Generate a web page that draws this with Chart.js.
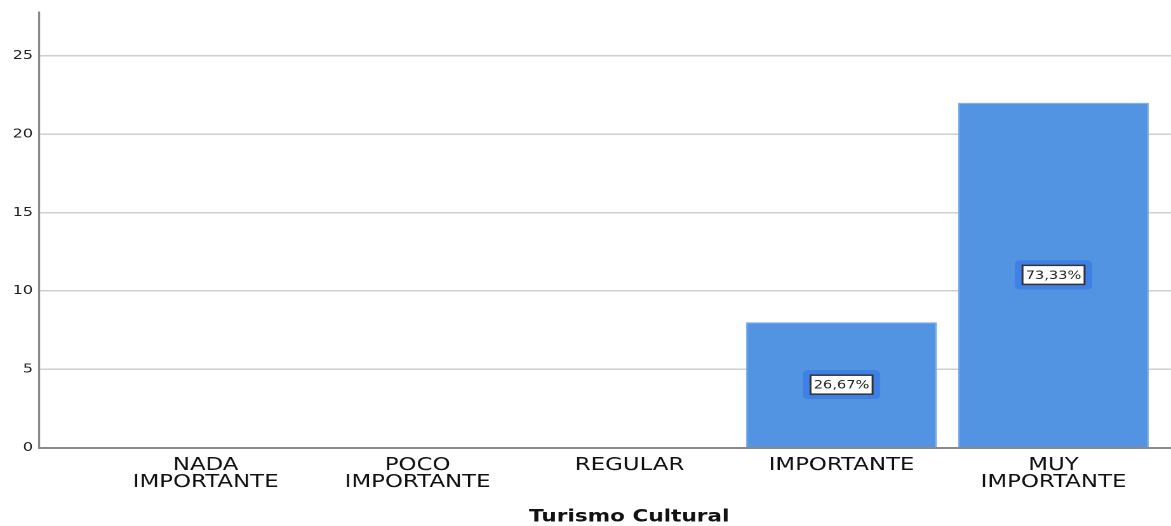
<!DOCTYPE html>
<html><head><meta charset="utf-8">
<script src="https://cdn.jsdelivr.net/npm/chart.js@4"></script>
<style>
html,body{margin:0;padding:0;background:#fff;overflow:hidden}
#wrap{width:922px;height:526px;transform:scaleX(1.27);transform-origin:0 0}
</style>
</head><body><div id="wrap"><canvas id="c"></canvas></div>
<script>
const categories = [["NADA","IMPORTANTE"],["POCO","IMPORTANTE"],["REGULAR"],["IMPORTANTE"],["MUY","IMPORTANTE"]];
const counts = [0, 0, 0, 8, 22];
const percentLabels = ["", "", "", "26,67%", "73,33%"];
const yTicks = [0, 5, 10, 15, 20, 25];
const xTitle = 'Turismo Cultural';

const labelPlugin = {
  id: 'pctLabels',
  afterDatasetsDraw(chart) {
    const ctx = chart.ctx;
    const meta = chart.getDatasetMeta(0);
    ctx.save();
    ctx.font = '11.5px "DejaVu Sans"';
    ctx.textAlign = 'center';
    ctx.textBaseline = 'middle';
    meta.data.forEach((bar, i) => {
      const t = percentLabels[i];
      if (!t) return;
      const cy = (bar.y + bar.base) / 2;
      const w = ctx.measureText(t).width + 5;
      const h = 19;
      ctx.fillStyle = 'rgba(62,128,228,1)';
      ctx.beginPath();
      ctx.roundRect(bar.x - w/2 - 6, cy - h/2 - 5, w + 12, h + 10, 4);
      ctx.fill();
      ctx.fillStyle = '#fff';
      ctx.fillRect(bar.x - w/2, cy - h/2, w, h);
      ctx.strokeStyle = '#333';
      ctx.lineWidth = 1.5;
      ctx.strokeRect(bar.x - w/2, cy - h/2, w, h);
      ctx.fillStyle = '#222';
      ctx.fillText(t, bar.x, cy + 1);
    });
    ctx.restore();
  },
  afterDraw(chart) {
    const ctx = chart.ctx;
    const a = chart.chartArea;
    ctx.save();
    ctx.font = 'bold 17px "DejaVu Sans"';
    ctx.fillStyle = '#111';
    ctx.textAlign = 'center';
    ctx.textBaseline = 'middle';
    ctx.fillText(xTitle, (a.left + a.right) / 2 + 19, chart.height - 9);
    ctx.restore();
  }
};

new Chart(document.getElementById('c'), {
  type: 'bar',
  data: {
    datasets: [{
      data: counts.map((v, i) => ({x: i, y: v})),
      backgroundColor: '#5294E2',
      borderColor: '#78aaea',
      borderWidth: 1,
      barPercentage: 0.9,
      categoryPercentage: 1.0
    }]
  },
  options: {
    responsive: true,
    maintainAspectRatio: false,
    animation: false,
    devicePixelRatio: 2,
    layout: {padding: {top: 7, right: 0, left: 5, bottom: 26}},
    plugins: {legend: {display: false}, tooltip: {enabled: false}},
    scales: {
      x: {
        type: 'linear',
        offset: false,
        min: -0.785,
        max: 4.554,
        grid: {display: false, drawTicks: false},
        border: {display: true, color: '#8a8a8a', width: 2},
        afterBuildTicks(axis) { axis.ticks = categories.map((_, i) => ({value: i})); },
        ticks: {
          autoSkip: false,
          maxRotation: 0,
          padding: 9,
          color: '#111',
          font: {family: '"DejaVu Sans"', size: 18, lineHeight: 0.95},
          callback: (v) => categories[v] || ''
        },
        title: {display: false}
      },
      y: {
        min: 0,
        max: 27.75,
        afterBuildTicks(axis) { axis.ticks = yTicks.map(v => ({value: v})); },
        grid: {color: '#cfcfcf', lineWidth: 1.5, drawTicks: false},
        border: {display: true, color: '#8a8a8a', width: 1.6},
        ticks: {
          padding: 5,
          color: '#222',
          font: {family: '"DejaVu Sans"', size: 12.5}
        }
      }
    }
  },
  plugins: [labelPlugin]
});
</script>
</body></html>
